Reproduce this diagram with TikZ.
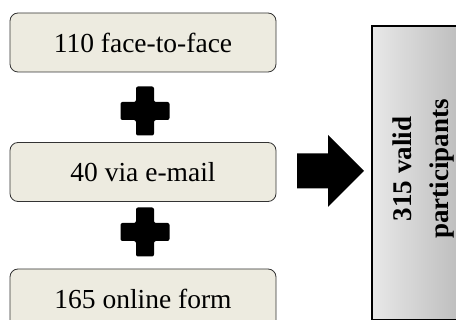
\documentclass[tikz,border=0pt]{standalone}
\usepackage{fontspec}
\setmainfont{Liberation Serif}
\definecolor{boxfill}{HTML}{EDEBE0}
\begin{document}
\begin{tikzpicture}[x=1pt,y=-1pt]
\useasboundingbox (0,0) rectangle (456,320);
\tikzset{
  srcbox/.style={draw=black!80, fill=boxfill, rounded corners=8pt, minimum width=266pt,
    minimum height=59pt, line width=0.8pt, font=\fontsize{27.5}{30}\selectfont, inner sep=0pt},
  plusmark/.style={fill=black, rounded corners=2pt},
  bigarrow/.style={fill=black},
  totalbox/.style={draw=black, line width=1.6pt, left color=black!9, right color=black!28,
    minimum width=100pt, minimum height=294pt, anchor=north west, inner sep=0pt},
  totaltext/.style={font=\fontsize{27}{37}\selectfont\bfseries, rotate=90, align=center}
}
\node[srcbox] (a) at (143,42.5) {110 face-to-face};
\node[srcbox] (b) at (143,172) {40 via e-mail};
\node[srcbox] (c) at (143,298.5) {165 online form};
\coordinate (p1) at (145,111);
\coordinate (p2) at (145,232);
\foreach \p in {p1,p2}{
  \fill[plusmark, shift={(\p)}] (-9,-24.5) -- (9,-24.5) -- (9,-9) -- (24.5,-9) -- (24.5,9)
    -- (9,9) -- (9,24.5) -- (-9,24.5) -- (-9,9) -- (-24.5,9) -- (-24.5,-9) -- (-9,-9) -- cycle;
}
\coordinate (arr) at (297,171);
\fill[bigarrow, shift={(arr)}] (0,-17.5) -- (31,-17.5) -- (31,-36) -- (67,0) -- (31,36)
  -- (31,17.5) -- (0,17.5) -- cycle;
\node[totalbox] (t) at (371,25) {};
\node[totaltext] (tt) at (424,169) {315 valid\\participants};
\end{tikzpicture}
\end{document}
